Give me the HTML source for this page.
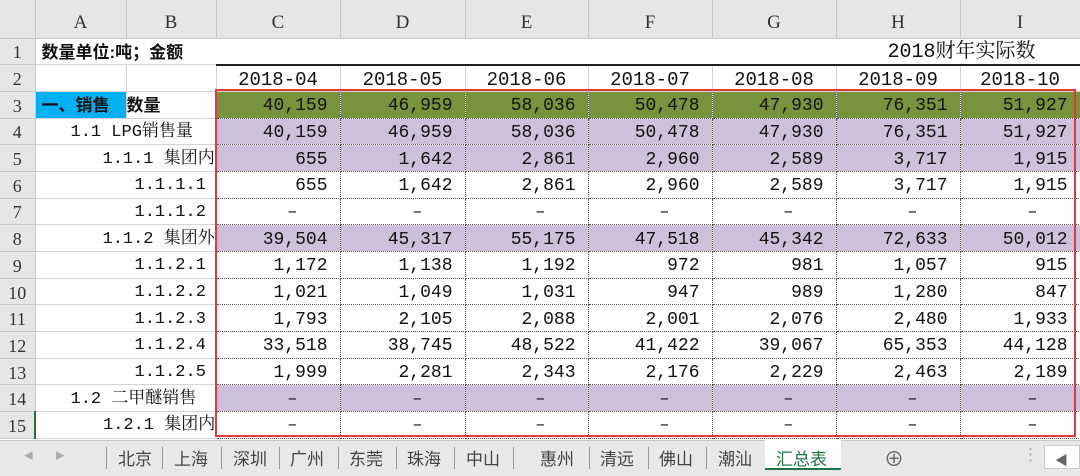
<!DOCTYPE html>
<html><head><meta charset="utf-8"><style>
*{margin:0;padding:0;box-sizing:border-box}
body{width:1080px;height:476px;overflow:hidden;background:#fff;font-family:"Liberation Mono","Noto Serif CJK SC",monospace;position:relative}
table{border-collapse:collapse;table-layout:fixed;position:absolute;left:0;top:0;width:1080px}
td{height:26.7px;line-height:20px;font-size:17px;white-space:nowrap;overflow:hidden;border-right:1px solid #d4d4d4;border-bottom:1px solid #d4d4d4;padding:3px 6px 0;color:#111}
tr.h td{height:38px;background:#e6e6e6;text-align:center;font-size:19px;color:#333;border-color:#c8c8c8;padding-top:8px;font-family:"Liberation Serif",serif}
td.rh{background:#e6e6e6;text-align:center;color:#333;font-size:18px;padding:2px 0 0;border-color:#c8c8c8;font-family:"Liberation Serif",serif}
td.n{text-align:right;border:1px dotted #555;padding-right:12px;font-size:18px}
td.d{text-align:right;padding-right:42px;border:1px dotted #555}
td.c{text-align:center;font-size:19px}
.g td.n{background:#77933c}
.p td.n,.p td.d{background:#ccc0da}
.box{position:absolute;left:215px;top:89px;width:861px;height:348px;border:2.5px solid #e0393e;pointer-events:none}
.tabs{position:absolute;left:0;top:440px;width:1080px;height:36px;background:#e8e8e8;border-top:1px solid #c8c8c8;font-family:"Liberation Sans","Noto Sans CJK SC",sans-serif;font-size:17px;color:#444}
.tabs span{position:absolute;top:4px}
.sep{position:absolute;top:6px;width:1px;height:22px;background:#999}
.b{font-weight:bold;font-family:"Liberation Sans","Noto Sans CJK SC",sans-serif}
</style></head><body>
<table>
<colgroup><col style="width:35px"><col style="width:91px"><col style="width:90px"><col style="width:124px"><col style="width:125px"><col style="width:123px"><col style="width:124px"><col style="width:124px"><col style="width:124px"><col style="width:120px"></colgroup>
<tr class="h"><td></td><td>A</td><td>B</td><td>C</td><td>D</td><td>E</td><td>F</td><td>G</td><td>H</td><td>I</td></tr>
<tr><td class="rh">1</td><td colspan="2" class="b" style="border-right:none">数量单位:吨；金额</td><td colspan="7" style="text-align:right;padding-right:44px;font-size:20px;border-bottom:2px solid #222">2018财年实际数</td></tr>
<tr><td class="rh">2</td><td></td><td></td><td class="c">2018-04</td><td class="c">2018-05</td><td class="c">2018-06</td><td class="c">2018-07</td><td class="c">2018-08</td><td class="c">2018-09</td><td class="c">2018-10</td></tr>
<tr class="g"><td class="rh">3</td><td class="b" style="background:#00b0f0">一、销售</td><td class="b" style="padding-left:0">数量</td><td class="n">40,159</td><td class="n">46,959</td><td class="n">58,036</td><td class="n">50,478</td><td class="n">47,930</td><td class="n">76,351</td><td class="n">51,927</td></tr>
<tr class="p"><td class="rh">4</td><td colspan="2" style="padding-left:35px">1.1 LPG销售量</td><td class="n">40,159</td><td class="n">46,959</td><td class="n">58,036</td><td class="n">50,478</td><td class="n">47,930</td><td class="n">76,351</td><td class="n">51,927</td></tr>
<tr class="p"><td class="rh">5</td><td colspan="2" style="padding-left:67px">1.1.1 集团内</td><td class="n">655</td><td class="n">1,642</td><td class="n">2,861</td><td class="n">2,960</td><td class="n">2,589</td><td class="n">3,717</td><td class="n">1,915</td></tr>
<tr><td class="rh">6</td><td colspan="2" style="padding-left:99px">1.1.1.1</td><td class="n">655</td><td class="n">1,642</td><td class="n">2,861</td><td class="n">2,960</td><td class="n">2,589</td><td class="n">3,717</td><td class="n">1,915</td></tr>
<tr><td class="rh">7</td><td colspan="2" style="padding-left:99px">1.1.1.2</td><td class="d">–</td><td class="d">–</td><td class="d">–</td><td class="d">–</td><td class="d">–</td><td class="d">–</td><td class="d">–</td></tr>
<tr class="p"><td class="rh">8</td><td colspan="2" style="padding-left:67px">1.1.2 集团外</td><td class="n">39,504</td><td class="n">45,317</td><td class="n">55,175</td><td class="n">47,518</td><td class="n">45,342</td><td class="n">72,633</td><td class="n">50,012</td></tr>
<tr><td class="rh">9</td><td colspan="2" style="padding-left:99px">1.1.2.1</td><td class="n">1,172</td><td class="n">1,138</td><td class="n">1,192</td><td class="n">972</td><td class="n">981</td><td class="n">1,057</td><td class="n">915</td></tr>
<tr><td class="rh">10</td><td colspan="2" style="padding-left:99px">1.1.2.2</td><td class="n">1,021</td><td class="n">1,049</td><td class="n">1,031</td><td class="n">947</td><td class="n">989</td><td class="n">1,280</td><td class="n">847</td></tr>
<tr><td class="rh">11</td><td colspan="2" style="padding-left:99px">1.1.2.3</td><td class="n">1,793</td><td class="n">2,105</td><td class="n">2,088</td><td class="n">2,001</td><td class="n">2,076</td><td class="n">2,480</td><td class="n">1,933</td></tr>
<tr><td class="rh">12</td><td colspan="2" style="padding-left:99px">1.1.2.4</td><td class="n">33,518</td><td class="n">38,745</td><td class="n">48,522</td><td class="n">41,422</td><td class="n">39,067</td><td class="n">65,353</td><td class="n">44,128</td></tr>
<tr><td class="rh">13</td><td colspan="2" style="padding-left:99px">1.1.2.5</td><td class="n">1,999</td><td class="n">2,281</td><td class="n">2,343</td><td class="n">2,176</td><td class="n">2,229</td><td class="n">2,463</td><td class="n">2,189</td></tr>
<tr class="p"><td class="rh">14</td><td colspan="2" style="padding-left:35px">1.2 二甲醚销售</td><td class="d">–</td><td class="d">–</td><td class="d">–</td><td class="d">–</td><td class="d">–</td><td class="d">–</td><td class="d">–</td></tr>
<tr><td class="rh" style="border-right:2px solid #217346">15</td><td colspan="2" style="padding-left:67px">1.2.1 集团内</td><td class="d">–</td><td class="d">–</td><td class="d">–</td><td class="d">–</td><td class="d">–</td><td class="d">–</td><td class="d">–</td></tr>
</table>
<div class="box"></div>
<div class="tabs">
<span style="left:24px;color:#aaa">◂</span><span style="left:56px;color:#aaa">▸</span>
<div class="sep" style="left:106px"></div><span style="left:118px">北京</span>
<div class="sep" style="left:162px"></div><span style="left:174px">上海</span>
<div class="sep" style="left:221px"></div><span style="left:233px">深圳</span>
<div class="sep" style="left:279px"></div><span style="left:290px">广州</span>
<div class="sep" style="left:338px"></div><span style="left:349px">东莞</span>
<div class="sep" style="left:396px"></div><span style="left:407px">珠海</span>
<div class="sep" style="left:454px"></div><span style="left:466px">中山</span>
<div class="sep" style="left:513px"></div><span style="left:540px">惠州</span>
<div class="sep" style="left:589px"></div><span style="left:600px">清远</span>
<div class="sep" style="left:648px"></div><span style="left:659px">佛山</span>
<div class="sep" style="left:706px"></div><span style="left:718px">潮汕</span>
<div style="position:absolute;left:765px;top:-1px;width:76px;height:30px;background:#fff;border-bottom:2px solid #217346"></div><span style="left:776px;color:#217346">汇总表</span>
<span style="left:884px;top:2px;font-size:20px;color:#666">⊕</span>
<span style="left:1022px;color:#aaa">⋮</span>
<div style="position:absolute;left:1044px;top:4px;width:36px;height:24px;background:#fff;border:1px solid #ccc"></div><span style="left:1055px;color:#666;font-size:13px;top:9px">◀</span>
</div>
</body></html>
